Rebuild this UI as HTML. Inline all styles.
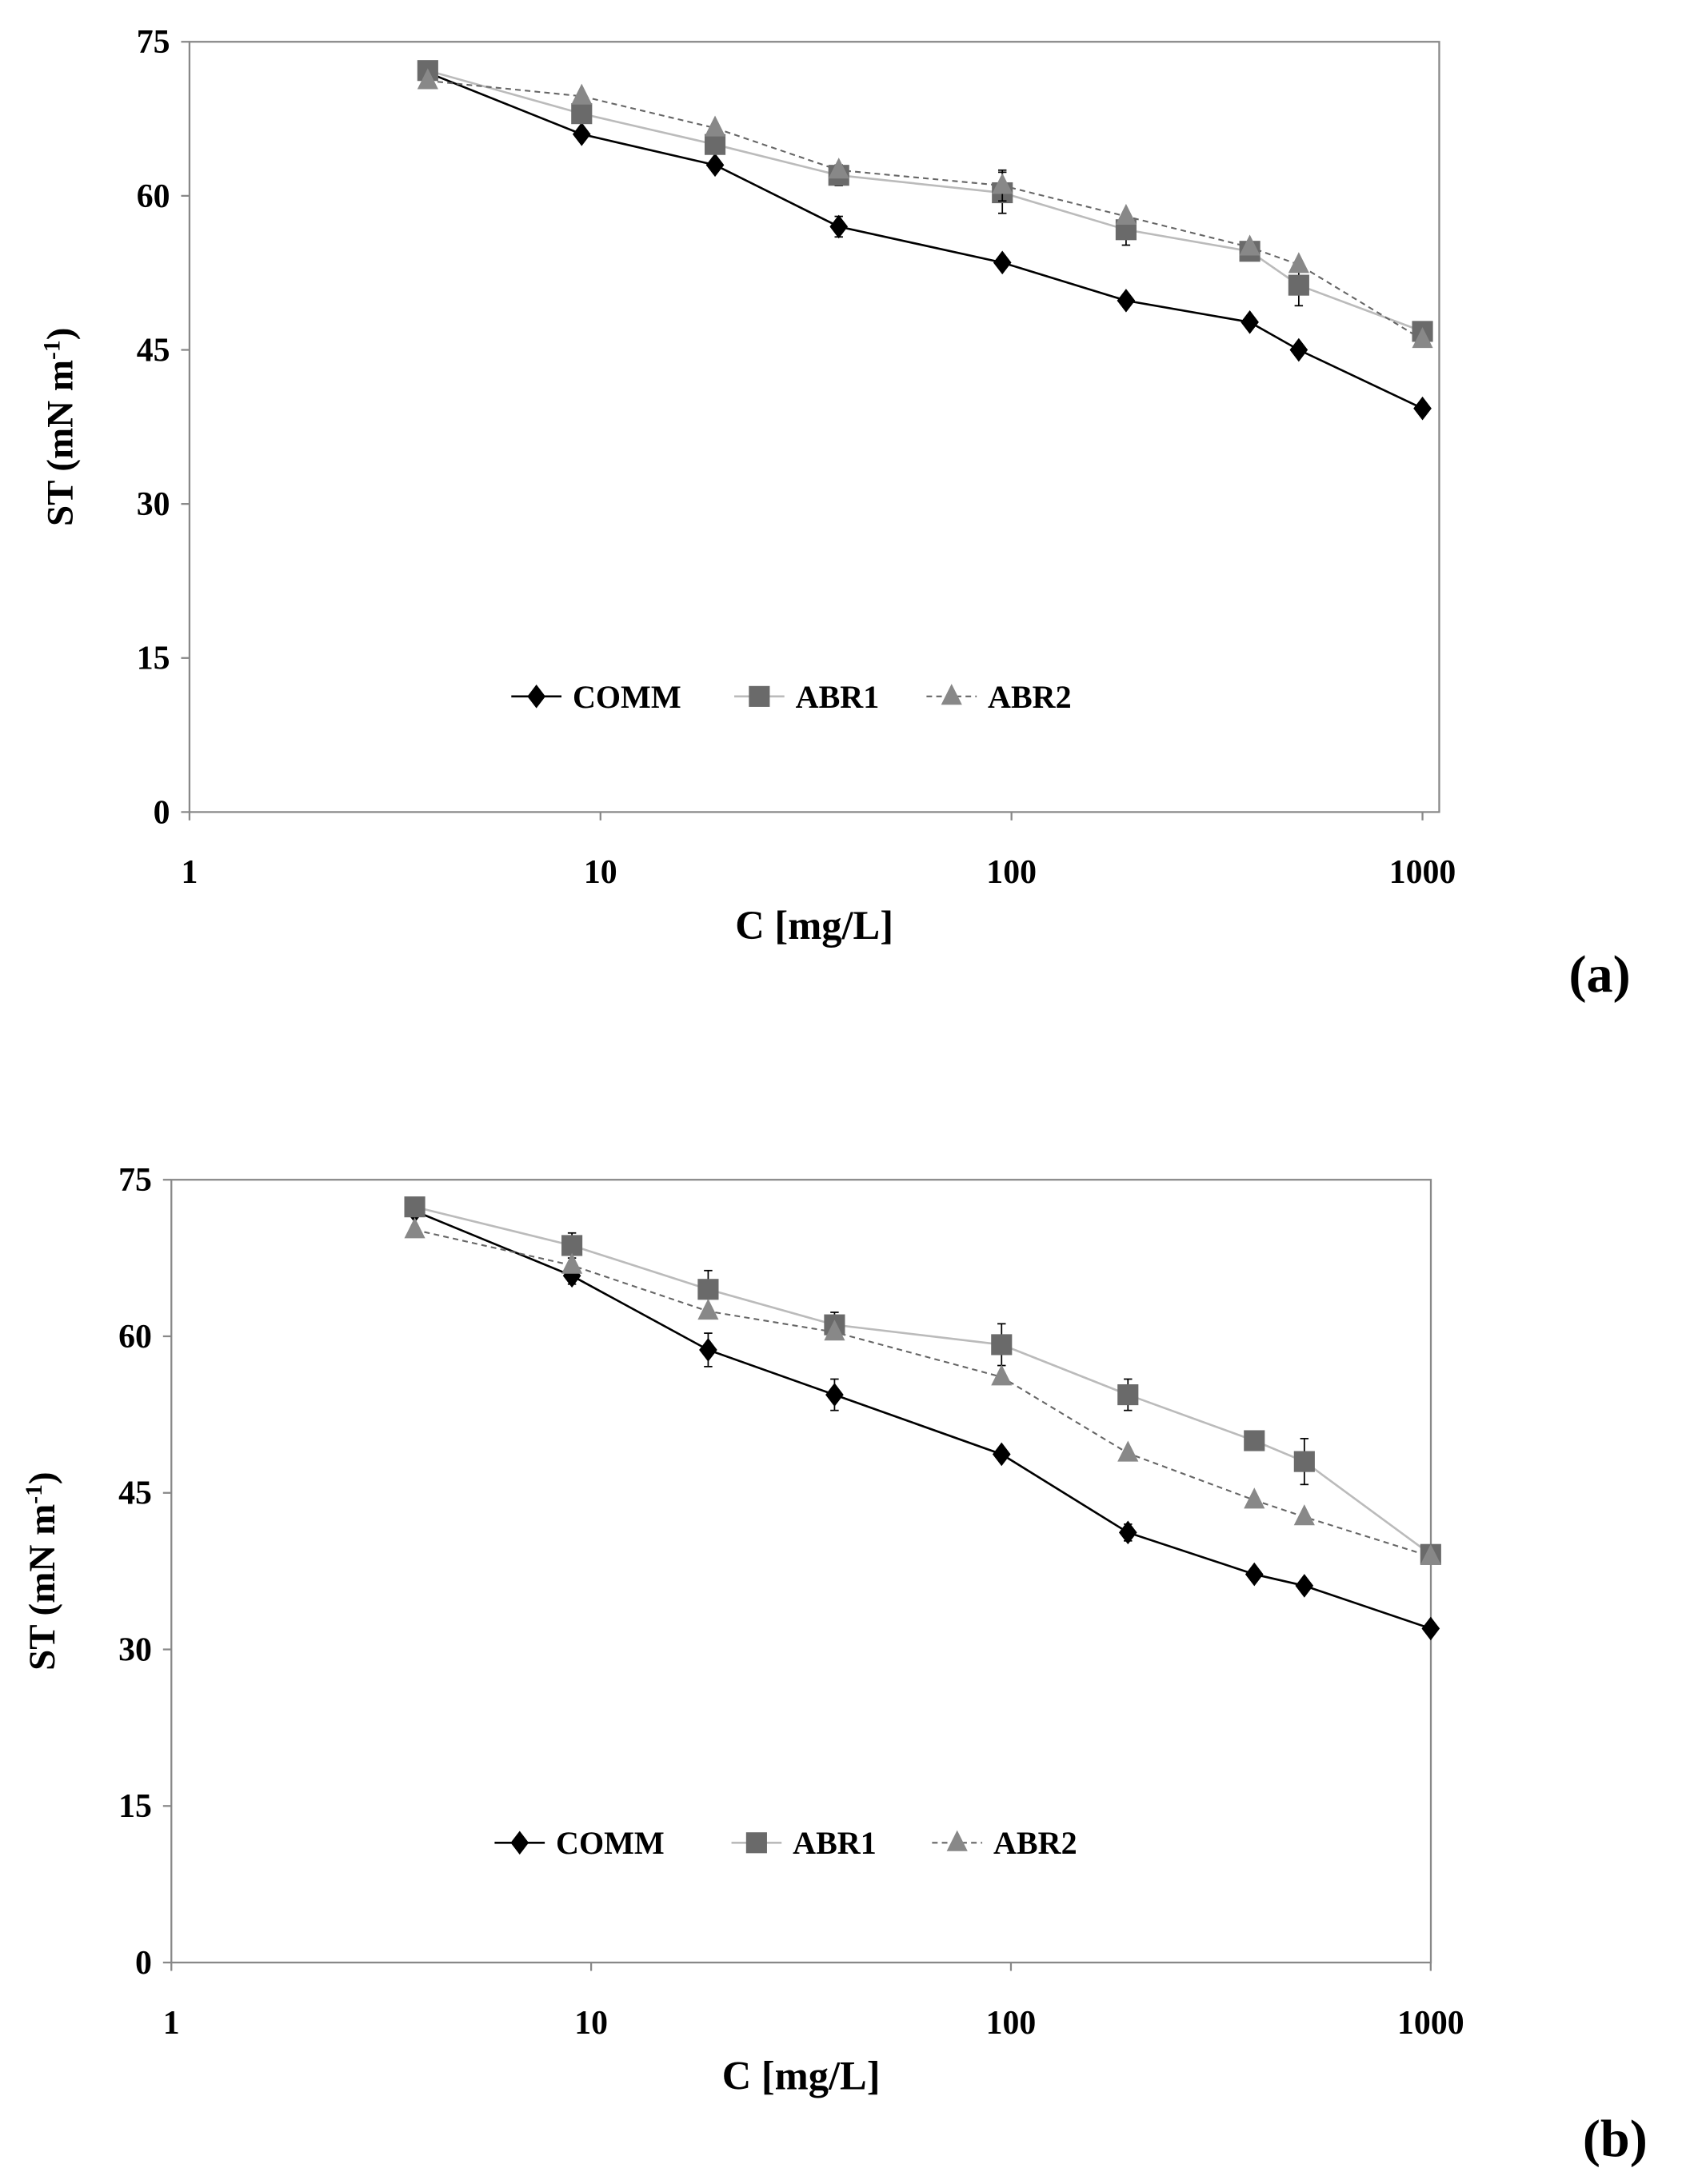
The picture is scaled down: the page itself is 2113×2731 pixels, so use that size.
<!DOCTYPE html>
<html><head><meta charset="utf-8"><style>
html,body{margin:0;padding:0;background:#fff;}
svg{display:block;}
text{font-family:"Liberation Serif",serif;font-weight:bold;fill:#000;}
</style></head><body>
<svg id="fig" width="2113" height="2731" viewBox="0 0 1213 1568" preserveAspectRatio="none" xmlns="http://www.w3.org/2000/svg"></svg>
<script>
const concentrations = [3.8, 9, 19, 38, 95, 190, 380, 500, 1000];
const yTicks = [0, 15, 30, 45, 60, 75];
const xTicks = [1, 10, 100, 1000];
const seriesNames = ["COMM", "ABR1", "ABR2"];
const aComm = [72, 66, 63, 57, 53.5, 49.8, 47.7, 45, 39.3];
const aAbr1 = [72.2, 68, 65, 62, 60.3, 56.7, 54.6, 51.3, 46.8];
const aAbr2 = [71.2, 69.7, 66.6, 62.5, 61, 58, 55, 53.3, 46];
const aCommErr = [0, 0, 0, 1, 0, 0, 0, 0, 0];
const aAbr1Err = [0, 0, 0, 1, 2, 1.5, 0, 2, 0];
const aAbr2Err = [0, 0, 0, 0, 1.5, 0, 0, 0, 0];
const bComm = [72, 65.8, 58.7, 54.4, 48.7, 41.2, 37.2, 36.1, 32];
const bAbr1 = [72.4, 68.7, 64.5, 61.1, 59.2, 54.4, 50.0, 48.0, 39.1];
const bAbr2 = [70.2, 66.8, 62.4, 60.4, 56.1, 48.8, 44.3, 42.7, 38.9];
const bCommErr = [0, 0.8, 1.6, 1.5, 0, 0.8, 0, 0, 0];
const bAbr1Err = [0, 1.2, 1.8, 1.2, 2, 1.5, 0, 2.2, 0];
const bAbr2Err = [0, 0, 0, 0, 0, 0, 0, 0, 0];

const NS = "http://www.w3.org/2000/svg";
const svg = document.getElementById("fig");
function el(tag, attrs, parent) {
  const e = document.createElementNS(NS, tag);
  for (const k in attrs) e.setAttribute(k, attrs[k]);
  (parent || svg).appendChild(e);
  return e;
}
function marker(g, type, x, y, name) {
  let m;
  if (type === 0) {
    m = el("polygon", {points: `${x},${y-8.5} ${x+6.5},${y} ${x},${y+8.5} ${x-6.5},${y}`, fill: "#000"}, g);
  } else if (type === 1) {
    m = el("rect", {x: x-7.5, y: y-7.5, width: 15, height: 15, fill: "#6a6a6a"}, g);
  } else {
    m = el("polygon", {points: `${x},${y-9} ${x+7.5},${y+6} ${x-7.5},${y+6}`, fill: "#888"}, g);
  }
  
  
}
function chart(cfg) {
  const g = el("g", {});
  
  
  const xs = v => cfg.x1 + Math.log10(v) * cfg.dec;
  const ys = v => cfg.bottom - (v / 75) * (cfg.bottom - cfg.top);
  const frame = el("rect", {x: cfg.x1, y: cfg.top, width: cfg.right - cfg.x1, height: cfg.bottom - cfg.top, fill: "none", stroke: "#888", "stroke-width": 1.3}, g);
  
  
  yTicks.forEach(t => {
    el("line", {x1: cfg.x1 - 6, x2: cfg.x1, y1: ys(t), y2: ys(t), stroke: "#888", "stroke-width": 1.3}, g);
    const tx = el("text", {x: cfg.x1 - 14, y: ys(t) + 8, "text-anchor": "end", "font-size": 24}, g);
    tx.textContent = t;
    
    
  });
  xTicks.forEach(t => {
    el("line", {x1: xs(t), x2: xs(t), y1: cfg.bottom, y2: cfg.bottom + 6, stroke: "#888", "stroke-width": 1.3}, g);
    const tx = el("text", {x: xs(t), y: cfg.bottom + 51, "text-anchor": "middle", "font-size": 24}, g);
    tx.textContent = t;
    
    
  });
  const xt = el("text", {x: (cfg.x1 + cfg.right) / 2, y: cfg.bottom + 91, "text-anchor": "middle", "font-size": 29}, g);
  xt.textContent = "C [mg/L]";
  
  
  const yc = (cfg.top + cfg.bottom) / 2;
  const yt = el("text", {x: cfg.ytx, y: yc, "text-anchor": "middle", "font-size": 27, transform: `rotate(-90 ${cfg.ytx} ${yc})`}, g);
  yt.innerHTML = 'ST (mN m<tspan baseline-shift="super" font-size="17">-1</tspan>)';
  
  
  const styles = [
    {stroke: "#000", w: 1.5, dash: null},
    {stroke: "#bbb", w: 1.5, dash: null},
    {stroke: "#666", w: 1.2, dash: "4 3"}
  ];
  cfg.series.forEach((s, i) => {
    const pts = concentrations.map((c, j) => `${xs(c)},${ys(s[j])}`).join(" ");
    const pl = el("polyline", {points: pts, fill: "none", stroke: styles[i].stroke, "stroke-width": styles[i].w}, g);
    if (styles[i].dash) pl.setAttribute("stroke-dasharray", styles[i].dash);
    
    
  });
  cfg.series.forEach((s, i) => {
    concentrations.forEach((c, j) => {
      const e = cfg.errs[i][j];
      if (e > 0) {
        const x = xs(c);
        el("line", {x1: x, x2: x, y1: ys(s[j] - e), y2: ys(s[j] + e), stroke: "#000", "stroke-width": 1}, g);
        el("line", {x1: x - 3, x2: x + 3, y1: ys(s[j] + e), y2: ys(s[j] + e), stroke: "#000", "stroke-width": 1}, g);
        el("line", {x1: x - 3, x2: x + 3, y1: ys(s[j] - e), y2: ys(s[j] - e), stroke: "#000", "stroke-width": 1}, g);
      }
      marker(g, i, xs(c), ys(s[j]), 'point-' + seriesNames[i].toLowerCase());
    });
  });
  cfg.legend.forEach((lx, i) => {
    const ly = cfg.legY;
    const ln = el("line", {x1: lx - 18, x2: lx + 18, y1: ly, y2: ly, stroke: styles[i].stroke, "stroke-width": styles[i].w}, g);
    if (styles[i].dash) ln.setAttribute("stroke-dasharray", styles[i].dash);
    marker(g, i, lx, ly, 'legend-marker-' + seriesNames[i].toLowerCase());
    const t = el("text", {x: lx + 26, y: ly + 8, "font-size": 23}, g);
    t.textContent = seriesNames[i];
    
    
  });
  const lab = el("text", {x: cfg.labX, y: cfg.labY, "font-size": 38, "font-weight": "normal"}, g);
  lab.textContent = cfg.label;
  
  
}
chart({name: "chart-a", x1: 136, right: 1033, dec: 295, top: 30, bottom: 583, ytx: 52,
  series: [aComm, aAbr1, aAbr2], errs: [aCommErr, aAbr1Err, aAbr2Err],
  legend: [385, 545, 683], legY: 500, label: "(a)", labX: 1126, labY: 712});
chart({name: "chart-b", x1: 123, right: 1027, dec: 301.3, top: 847, bottom: 1409, ytx: 39,
  series: [bComm, bAbr1, bAbr2], errs: [bCommErr, bAbr1Err, bAbr2Err],
  legend: [373, 543, 687], legY: 1323, label: "(b)", labX: 1136, labY: 1548});
</script>
</body></html>
